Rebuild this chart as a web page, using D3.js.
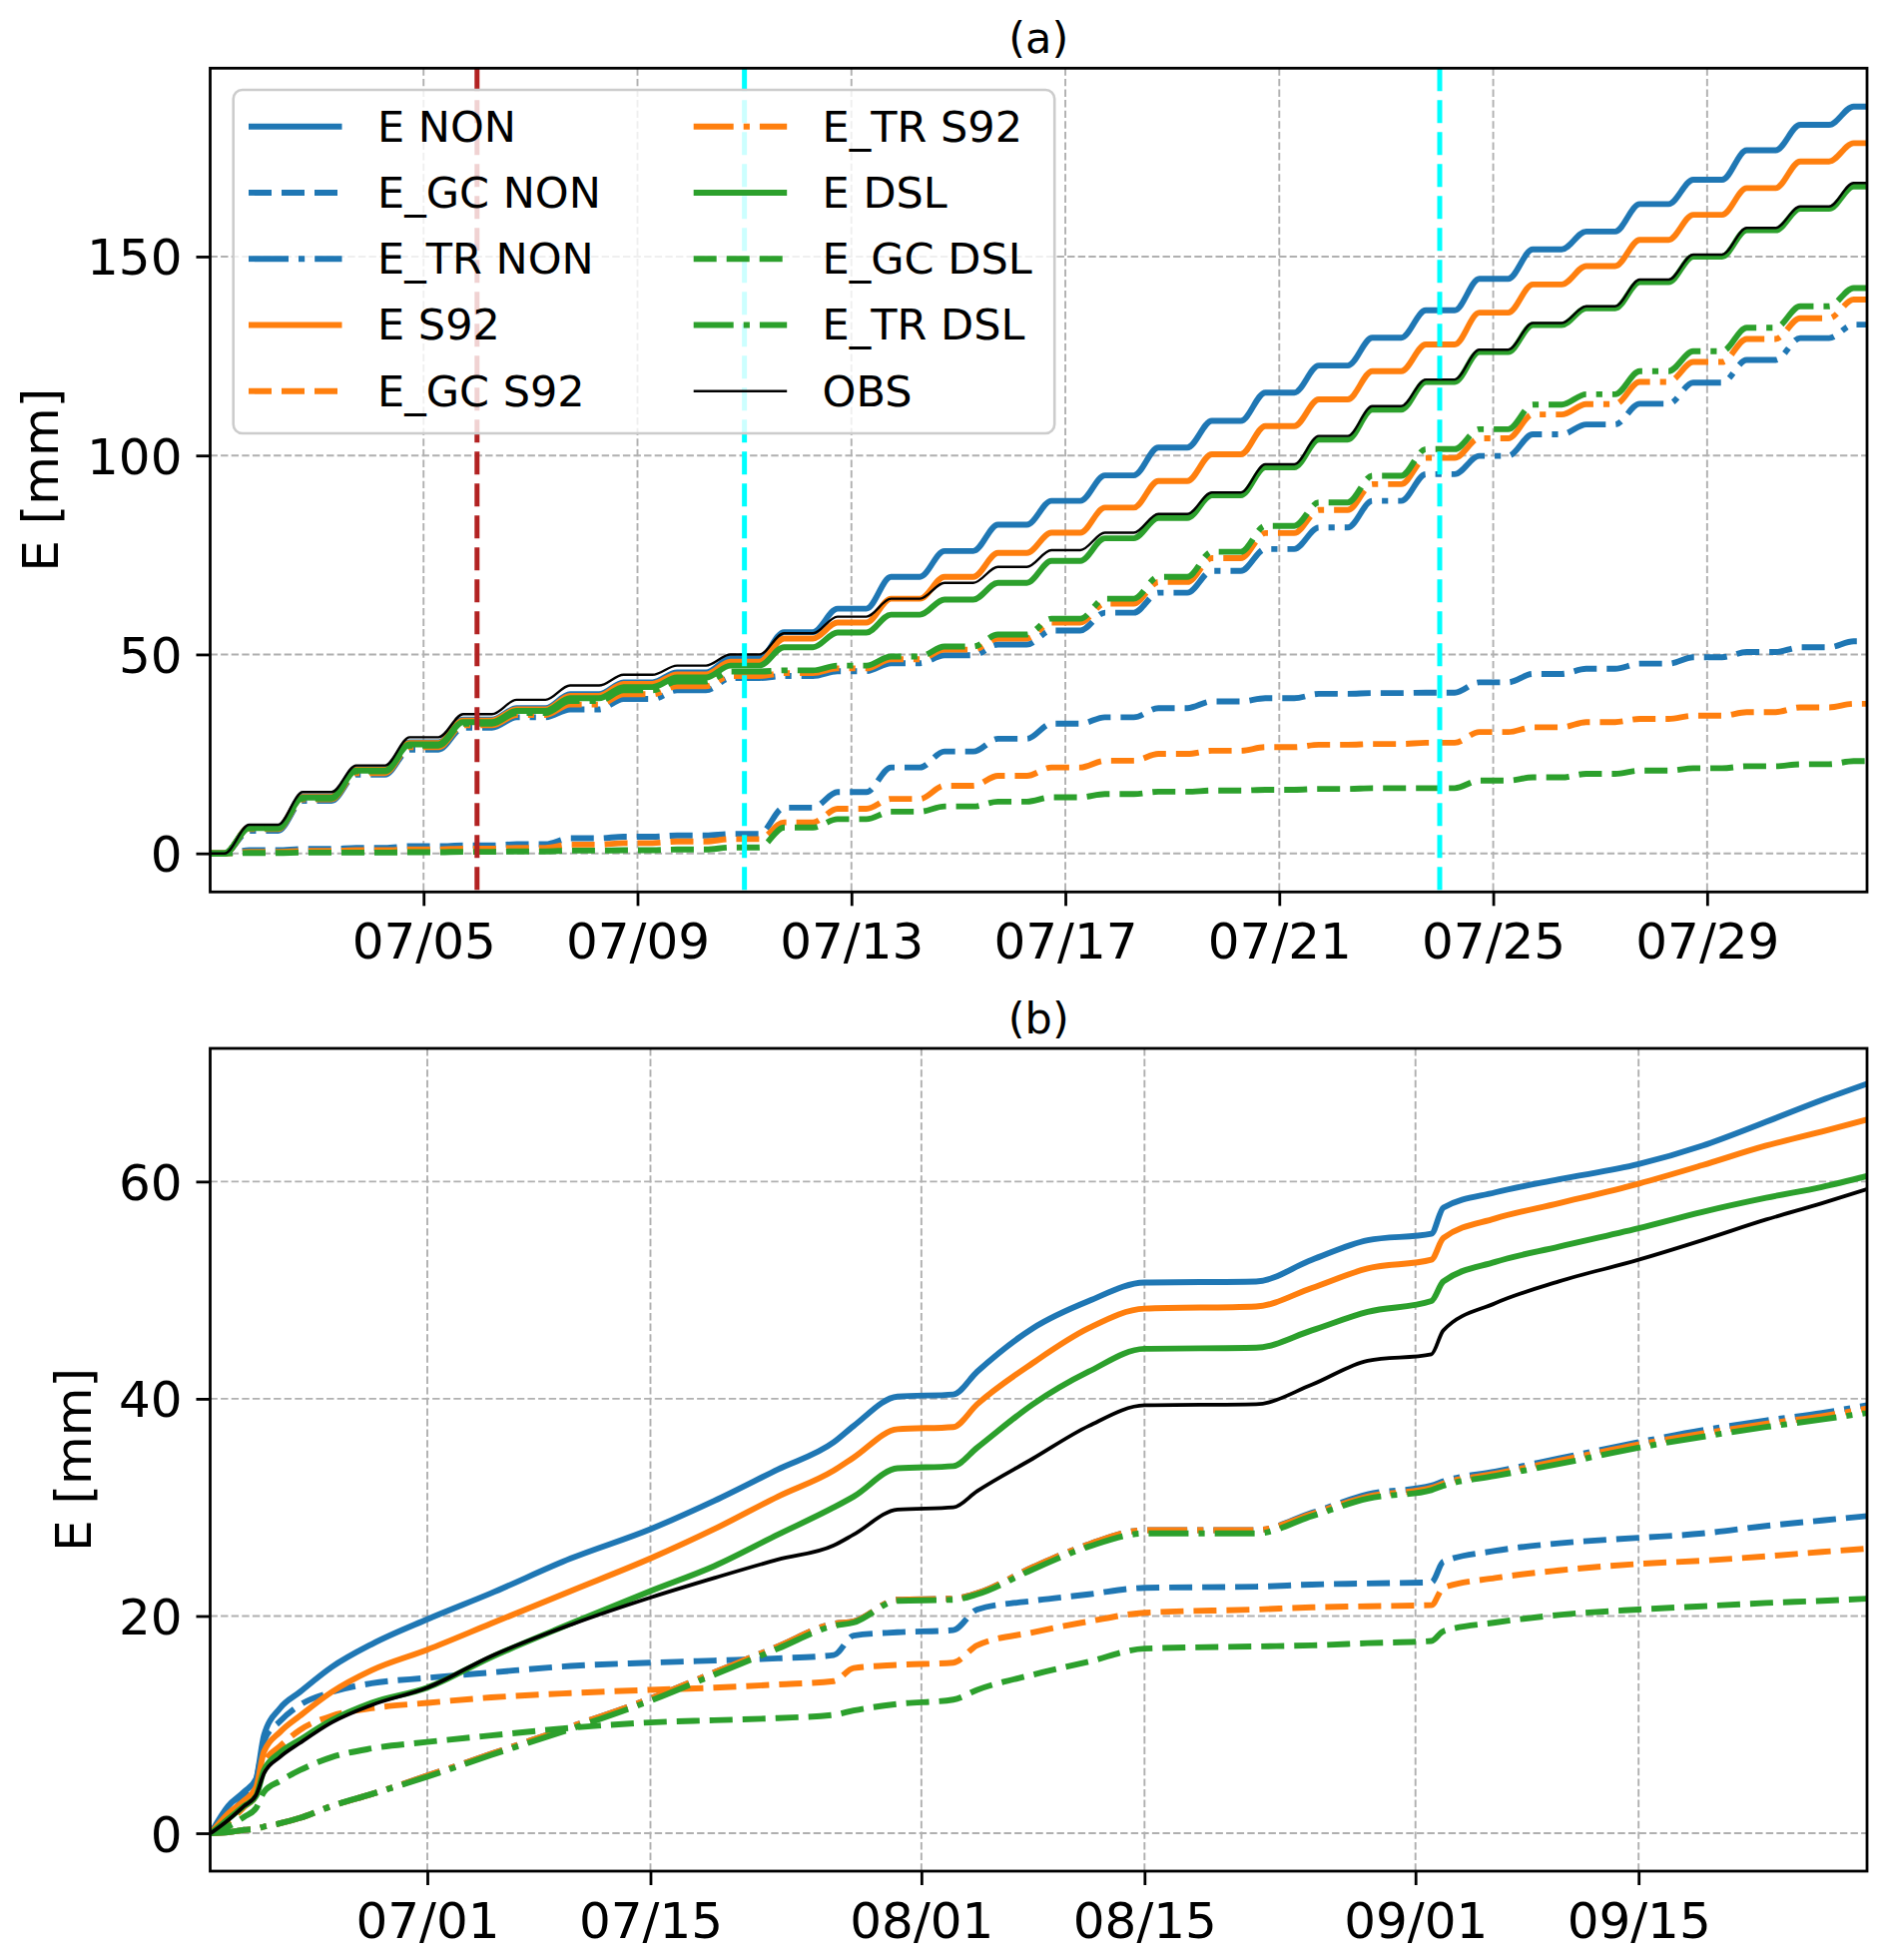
<!DOCTYPE html>
<html>
<head>
<meta charset="utf-8">
<script src="https://cdn.jsdelivr.net/npm/d3@7"></script>
<style>
  body { margin: 0; background: #fff; }
  svg text { font-family: "DejaVu Sans", sans-serif; fill: #000; }
</style>
</head>
<body>
<svg id="chart" width="1892" height="1963"></svg>
<script>
// ---- panel (a): cumulative E [mm] read at each midnight, 07/01 .. 08/01
const aENon   = [0, 6.5, 14.3, 21.2, 27.9, 33.6, 36.5, 40.0, 43.0, 45.5, 49.0, 55.6, 61.5, 69.5, 76.0, 82.6, 88.6, 95.0, 102.0, 108.7, 115.8, 122.6, 129.6, 136.5, 144.4, 151.8, 156.3, 163.2, 169.3, 176.7, 183.1, 187.7];
const aEGCNon = [0, 0.8, 1.1, 1.4, 1.8, 2.0, 2.3, 3.8, 4.2, 4.5, 4.9, 11.5, 15.4, 21.6, 25.6, 28.8, 32.6, 34.2, 36.5, 38.2, 39.0, 40.1, 40.3, 40.4, 43.0, 45.1, 46.4, 47.7, 49.3, 50.6, 51.8, 53.3];
const aETRNon = [0, 5.7, 13.2, 19.8, 26.1, 31.6, 34.2, 36.2, 38.8, 41.0, 44.1, 44.6, 45.8, 47.8, 49.8, 52.5, 56.0, 60.5, 65.5, 71.0, 76.5, 81.9, 88.6, 95.3, 99.9, 105.3, 107.8, 113.0, 118.3, 124.0, 129.5, 132.9];
const aES92   = [0, 6.5, 14.2, 21.0, 27.7, 33.4, 36.2, 39.6, 42.6, 45.0, 48.2, 54.0, 58.0, 64.0, 69.5, 75.5, 80.6, 86.9, 93.6, 100.3, 107.4, 114.1, 121.2, 127.9, 135.9, 143.0, 147.6, 154.2, 160.5, 167.2, 173.9, 178.5];
const aEGCS92 = [0, 0.4, 0.6, 0.8, 1.0, 1.2, 1.4, 2.2, 2.6, 3.0, 3.6, 7.8, 11.2, 13.7, 17.0, 19.5, 21.6, 23.3, 25.0, 25.8, 26.7, 27.3, 27.5, 27.8, 30.5, 31.7, 33.0, 33.8, 34.6, 35.5, 36.7, 37.6];
const aETRS92 = [0, 6.1, 13.6, 20.2, 26.7, 32.2, 34.8, 37.4, 40.0, 42.0, 44.6, 45.3, 46.5, 48.8, 51.2, 54.0, 58.0, 62.8, 68.2, 74.2, 80.5, 86.3, 92.8, 99.4, 104.3, 110.3, 112.9, 118.5, 123.5, 129.3, 134.5, 139.2];
const aEDsl   = [0, 6.4, 14.0, 20.8, 27.4, 33.0, 35.8, 39.0, 41.8, 44.2, 47.2, 51.8, 55.5, 60.0, 63.8, 68.0, 73.5, 79.2, 84.3, 90.0, 97.0, 104.0, 111.5, 118.5, 126.0, 132.8, 137.0, 143.6, 150.0, 156.6, 162.0, 167.6];
const aEGCDsl = [0, 0.1, 0.2, 0.2, 0.3, 0.4, 0.5, 0.7, 0.8, 1.0, 1.5, 6.5, 8.6, 10.5, 11.8, 13.0, 14.1, 14.9, 15.5, 15.8, 16.0, 16.2, 16.4, 16.4, 18.3, 19.1, 20.0, 20.8, 21.4, 21.9, 22.4, 23.2];
const aETRDsl = [0, 6.3, 13.8, 20.6, 27.1, 32.6, 35.3, 38.3, 41.0, 43.2, 45.7, 46.0, 47.2, 49.5, 52.0, 55.0, 59.0, 64.0, 69.5, 75.8, 82.3, 88.2, 94.9, 101.6, 106.6, 112.8, 115.4, 121.2, 126.2, 132.1, 137.5, 142.1];
const aObs    = [0, 7.2, 15.4, 22.1, 29.2, 35.0, 38.6, 42.2, 44.9, 47.2, 50.0, 55.3, 59.5, 64.0, 68.0, 72.0, 76.2, 80.6, 85.3, 90.7, 97.8, 104.9, 112.4, 119.1, 126.6, 133.3, 137.5, 144.2, 150.5, 157.2, 162.6, 168.5];
const aTicksX = ["07/05", "07/09", "07/13", "07/17", "07/21", "07/25", "07/29"];
const aTicksY = [0, 50, 100, 150];
const aMarks  = ["07/06", "07/11", "07/24"];

// ---- panel (b): cumulative E [mm], June - September
const bDates  = ["06/17 10", "06/18 12", "06/19 12", "06/20 06", "06/20 18", "06/21 18", "06/23 00", "06/25 00", "06/27 12", "07/01 00", "07/05 00", "07/10 00", "07/15 00", "07/19 00", "07/23 00", "07/26 12", "07/27 18", "07/30 12", "08/03 00", "08/04 12", "08/08 00", "08/11 12", "08/15 00", "08/22 00", "08/25 12", "08/29 00", "09/02 00", "09/02 18", "09/06 00", "09/10 00", "09/15 00", "09/19 00", "09/23 00", "09/26 12", "09/29 08"];
const bENon   = [0, 2.5, 3.8, 5.0, 9.0, 11.5, 13.0, 15.3, 17.4, 19.7, 22.1, 25.3, 28.0, 30.6, 33.5, 36.0, 37.5, 40.2, 40.4, 42.5, 46.5, 49.0, 50.7, 50.8, 52.8, 54.6, 55.2, 57.6, 59.0, 60.2, 61.6, 63.3, 65.5, 67.5, 69.0];
const bEGCNon = [0, 1.5, 3.3, 4.8, 8.5, 10.3, 11.8, 13.0, 13.8, 14.3, 14.8, 15.4, 15.7, 15.9, 16.1, 16.4, 18.2, 18.5, 18.7, 20.6, 21.4, 22.0, 22.6, 22.7, 22.9, 23.0, 23.1, 25.0, 26.0, 26.7, 27.2, 27.6, 28.3, 28.8, 29.2];
const bETRNon = [0, 0.1, 0.3, 0.4, 0.6, 0.9, 1.4, 2.5, 3.6, 5.3, 7.3, 9.8, 12.4, 14.8, 17.2, 19.3, 19.5, 21.5, 21.6, 22.1, 24.5, 26.6, 27.9, 27.9, 29.5, 31.2, 32.0, 32.4, 33.3, 34.5, 36.0, 37.1, 38.0, 38.7, 39.4];
const bES92   = [0, 1.8, 3.0, 4.2, 7.5, 9.3, 10.8, 13.0, 15.0, 16.9, 19.3, 22.3, 25.3, 28.0, 31.0, 33.4, 34.6, 37.2, 37.4, 39.5, 43.3, 46.5, 48.3, 48.5, 50.2, 52.0, 52.8, 54.8, 56.6, 58.0, 59.8, 61.5, 63.3, 64.6, 65.7];
const bEGCS92 = [0, 1.0, 2.4, 3.5, 6.5, 8.0, 9.5, 10.8, 11.5, 12.0, 12.5, 12.9, 13.2, 13.4, 13.7, 14.0, 15.2, 15.5, 15.7, 17.3, 18.5, 19.5, 20.3, 20.6, 20.8, 20.9, 21.0, 22.6, 23.5, 24.2, 24.8, 25.1, 25.5, 25.9, 26.2];
const bETRS92 = [0, 0.1, 0.3, 0.4, 0.6, 0.9, 1.4, 2.5, 3.6, 5.3, 7.3, 9.8, 12.4, 14.8, 17.2, 19.3, 19.5, 21.5, 21.6, 22.1, 24.5, 26.6, 27.9, 27.9, 29.4, 31.0, 31.8, 32.2, 33.1, 34.3, 35.8, 36.8, 37.7, 38.4, 39.1];
const bEDsl   = [0, 1.3, 2.5, 3.4, 5.8, 7.4, 8.6, 10.4, 12.0, 13.4, 16.2, 19.3, 22.3, 24.6, 27.5, 30.0, 31.0, 33.6, 33.8, 35.5, 39.5, 42.5, 44.6, 44.7, 46.3, 48.0, 49.0, 50.8, 52.6, 54.0, 55.7, 57.2, 58.5, 59.5, 60.5];
const bEGCDsl = [0, 0.6, 1.5, 2.3, 3.8, 4.8, 5.8, 7.0, 7.8, 8.4, 9.0, 9.7, 10.2, 10.4, 10.6, 10.9, 11.3, 11.9, 12.3, 13.2, 14.6, 15.8, 17.0, 17.2, 17.3, 17.5, 17.7, 18.6, 19.4, 20.1, 20.6, 20.9, 21.2, 21.4, 21.6];
const bETRDsl = [0, 0.1, 0.3, 0.4, 0.6, 0.9, 1.4, 2.5, 3.6, 5.2, 7.2, 9.6, 12.2, 14.6, 17.0, 19.1, 19.4, 21.4, 21.5, 22.0, 24.3, 26.4, 27.6, 27.6, 29.2, 30.8, 31.6, 32.0, 32.9, 34.0, 35.5, 36.5, 37.4, 38.1, 38.7];
const bObs    = [0, 1.2, 2.5, 3.5, 5.5, 7.0, 8.3, 10.2, 11.8, 13.4, 16.3, 19.2, 21.7, 23.5, 25.2, 26.5, 27.5, 29.8, 30.0, 31.5, 34.5, 37.5, 39.4, 39.5, 41.3, 43.5, 44.1, 46.3, 48.8, 50.8, 52.8, 54.6, 56.5, 58.0, 59.3];
const bTicksX = ["07/01", "07/15", "08/01", "08/15", "09/01", "09/15"];
const bTicksY = [0, 20, 40, 60];

const seriesNames = ["E NON", "E_GC NON", "E_TR NON", "E S92", "E_GC S92", "E_TR S92", "E DSL", "E_GC DSL", "E_TR DSL", "OBS"];
const aValues = [aENon, aEGCNon, aETRNon, aES92, aEGCS92, aETRS92, aEDsl, aEGCDsl, aETRDsl, aObs];
const bValues = [bENon, bEGCNon, bETRNon, bES92, bEGCS92, bETRS92, bEDsl, bEGCDsl, bETRDsl, bObs];

// styles
const blue = "#1f77b4", orange = "#ff7f0e", green = "#2ca02c";
const seriesColors = [blue, blue, blue, orange, orange, orange, green, green, green, "#000"];
const dashes = { solid: null, dashed: "23,10", dashdot: "40,10,6.2,10" };
const seriesDash = ["solid", "dashed", "dashdot", "solid", "dashed", "dashdot", "solid", "dashed", "dashdot", "solid"];
const lineW = 5.9;

const DAY = 864e5;
const parseMD = d3.utcParse("%Y/%m/%d");
const parseMDH = d3.utcParse("%Y/%m/%d %H");
const md = s => parseMD("2019/" + s);

const svg = d3.select("#chart");
const fs = 50;

function panel(cfg) {
  const { top, bottom, left, right } = cfg;
  const x = d3.scaleUtc().domain(cfg.xDomain).range([left, right]);
  const y = d3.scaleLinear().domain(cfg.yDomain).range([bottom, top]);
  const g = svg.append("g");

  const clipId = "clip" + cfg.id;
  svg.append("clipPath").attr("id", clipId)
    .append("rect").attr("x", left).attr("y", top).attr("width", right - left).attr("height", bottom - top);

  // grid
  const grid = g.append("g").attr("stroke", "#b0b0b0").attr("stroke-width", 1.9).attr("stroke-dasharray", "7.4,3.2");
  grid.selectAll(".gx").data(cfg.xTicks).join("line")
    .attr("x1", d => x(d)).attr("x2", d => x(d)).attr("y1", top).attr("y2", bottom);
  grid.selectAll(".gy").data(cfg.yTicks).join("line")
    .attr("x1", left).attr("x2", right).attr("y1", d => y(d)).attr("y2", d => y(d));

  // series
  const line = d3.line().x(d => x(d[0])).y(d => y(d[1])).curve(d3.curveMonotoneX);
  const lines = g.append("g").attr("clip-path", `url(#${clipId})`);
  cfg.series.forEach((pts, i) => {
    const obs = seriesNames[i] === "OBS";
    lines.append("path").datum(pts)
      .attr("d", line)
      .attr("fill", "none")
      .attr("stroke", seriesColors[i])
      .attr("stroke-width", obs ? cfg.obsW : lineW)
      .attr("stroke-linejoin", "round")
      .attr("stroke-dasharray", dashes[seriesDash[i]]);
  });

  // marker lines
  (cfg.marks || []).forEach(m => {
    g.append("line")
      .attr("x1", x(m.date)).attr("x2", x(m.date)).attr("y1", top).attr("y2", bottom)
      .attr("stroke", m.color).attr("stroke-width", 5).attr("stroke-dasharray", "23,9");
  });

  // axes
  const ax = g.append("g").attr("transform", `translate(0,${bottom})`)
    .call(d3.axisBottom(x).tickValues(cfg.xTicks).tickFormat(d3.utcFormat("%m/%d")).tickSize(14).tickPadding(17));
  const ay = g.append("g").attr("transform", `translate(${left},0)`)
    .call(d3.axisLeft(y).tickValues(cfg.yTicks).tickFormat(d3.format("d")).tickSize(14).tickPadding(14));
  [ax, ay].forEach(a => {
    a.select(".domain").remove();
    a.selectAll(".tick line").attr("stroke", "#000").attr("stroke-width", 2.8);
    a.selectAll(".tick text").attr("font-size", fs).attr("font-family", "DejaVu Sans").attr("fill", "#000");
  });
  ay.selectAll(".tick text").attr("dy", "0.36em");

  g.append("rect").attr("x", left).attr("y", top).attr("width", right - left).attr("height", bottom - top)
    .attr("fill", "none").attr("stroke", "#000").attr("stroke-width", 2.8);

  g.append("text").attr("x", (left + right) / 2).attr("y", top - 15.5)
    .attr("text-anchor", "middle").attr("font-size", 43).text(cfg.title);

  g.append("text")
    .attr("transform", `translate(${cfg.ylabelX},${(top + bottom) / 2}) rotate(-90)`)
    .attr("text-anchor", "middle").attr("font-size", fs).text("E [mm]");

  return { x, y, g };
}

// panel (a): plateau at night, rise during the day
const aStart = md("07/01");
const riseFrom = 0.28, riseTo = 0.74;
function dailyPoints(vals) {
  const pts = [[new Date(+aStart), vals[0]]];
  for (let d = 0; d < vals.length - 1; d++) {
    pts.push([new Date(+aStart + (d + riseFrom) * DAY), vals[d]]);
    pts.push([new Date(+aStart + (d + riseTo) * DAY), vals[d + 1]]);
  }
  pts.push([new Date(+aStart + (vals.length - 1) * DAY), vals[vals.length - 1]]);
  return pts;
}

const pa = panel({
  id: "a", title: "(a)", top: 68.3, bottom: 893.3, left: 210.5, right: 1870,
  xDomain: [new Date(+aStart + 0.01 * DAY), new Date(+aStart + 30.99 * DAY)],
  yDomain: [-9.69, 197.34],
  xTicks: aTicksX.map(md), yTicks: aTicksY,
  series: aValues.map(dailyPoints),
  obsW: 2.4, ylabelX: 58,
  marks: aMarks.map((m, i) => ({ date: md(m), color: i === 0 ? "#b22222" : "#00ffff" }))
});

// panel (b)
const bTimes = bDates.map(s => parseMDH("2019/" + s));
panel({
  id: "b", title: "(b)", top: 1050, bottom: 1874, left: 210.5, right: 1870,
  xDomain: [parseMDH("2019/06/17 09"), parseMDH("2019/09/29 08")],
  yDomain: [-3.49, 72.26],
  xTicks: bTicksX.map(md), yTicks: bTicksY,
  series: bValues.map(v => v.map((val, i) => [bTimes[i], val])),
  obsW: 3.8, ylabelX: 91
});

// legend in panel (a)
const leg = pa.g.append("g");
leg.append("rect").attr("x", 233.7).attr("y", 90).attr("width", 822.5).attr("height", 344)
  .attr("rx", 9).attr("fill", "#fff").attr("fill-opacity", 0.8)
  .attr("stroke", "#cccccc").attr("stroke-width", 2.6);
const rowH = 66.25, colX = [249, 694.7], textX = [378, 823.6];
seriesNames.forEach((name, i) => {
  const col = Math.floor(i / 5), row = i % 5;
  const cy = 126.7 + row * rowH;
  leg.append("line")
    .attr("x1", colX[col]).attr("x2", colX[col] + 93.5).attr("y1", cy).attr("y2", cy)
    .attr("stroke", seriesColors[i])
    .attr("stroke-width", name === "OBS" ? 2.4 : lineW)
    .attr("stroke-dasharray", dashes[seriesDash[i]]);
  leg.append("text").attr("x", textX[col]).attr("y", cy + 15)
    .attr("font-size", 43).text(name);
});
</script>
</body>
</html>
